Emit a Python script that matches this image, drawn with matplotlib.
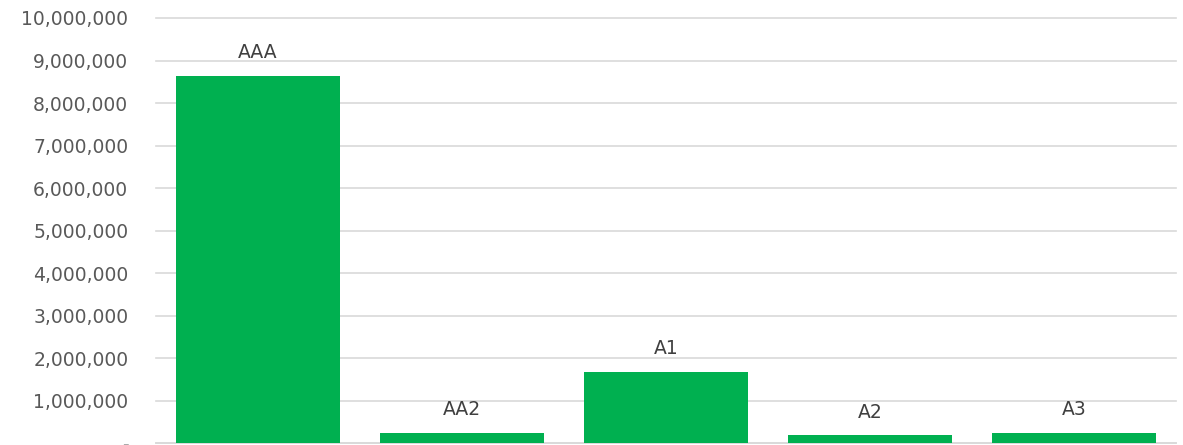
import matplotlib.pyplot as plt
from matplotlib.ticker import FuncFormatter, MultipleLocator

# ratings and amounts
categories = ["AAA", "AA2", "A1", "A2", "A3"]
values = [8640000, 250000, 1680000, 190000, 250000]

bar_color = "#00b050"
grid_color = "#d9d9d9"
text_color = "#595959"


def fmt(v, pos):
    if v == 0:
        return "-"
    return "{:,.0f}".format(v)


if __name__ == '__main__':
    fig = plt.figure(figsize=(11.83, 4.45), dpi=100)
    ax = fig.add_axes([0.1319, 0.0034, 0.8621, 0.9562])

    x = range(len(categories))
    bars = ax.bar(x, values, width=0.8, color=bar_color, zorder=3)

    # category names sit above each bar
    for rect, name in zip(bars, categories):
        ax.annotate(name, (rect.get_x() + rect.get_width() / 2, rect.get_height()),
                    xytext=(0, 10), textcoords="offset points",
                    ha="center", va="bottom", fontsize=13.5, color="#404040")

    ax.set_xlim(-0.5, len(categories) - 0.5)
    ax.set_ylim(0, 10000000)
    ax.yaxis.set_major_locator(MultipleLocator(1000000))
    ax.yaxis.set_major_formatter(FuncFormatter(fmt))
    ax.grid(axis="y", color=grid_color, linewidth=1.2, zorder=0)
    for gl in ax.get_ygridlines():
        gl.set_clip_on(False)
    ax.set_xticks([])
    ax.tick_params(axis="y", length=0, pad=20, labelsize=13.5, labelcolor=text_color)

    for side in ["top", "right", "left"]:
        ax.spines[side].set_visible(False)
    ax.spines["bottom"].set_color(grid_color)
    ax.spines["bottom"].set_linewidth(1.2)

    plt.savefig("out.png", format="png", dpi=100)
